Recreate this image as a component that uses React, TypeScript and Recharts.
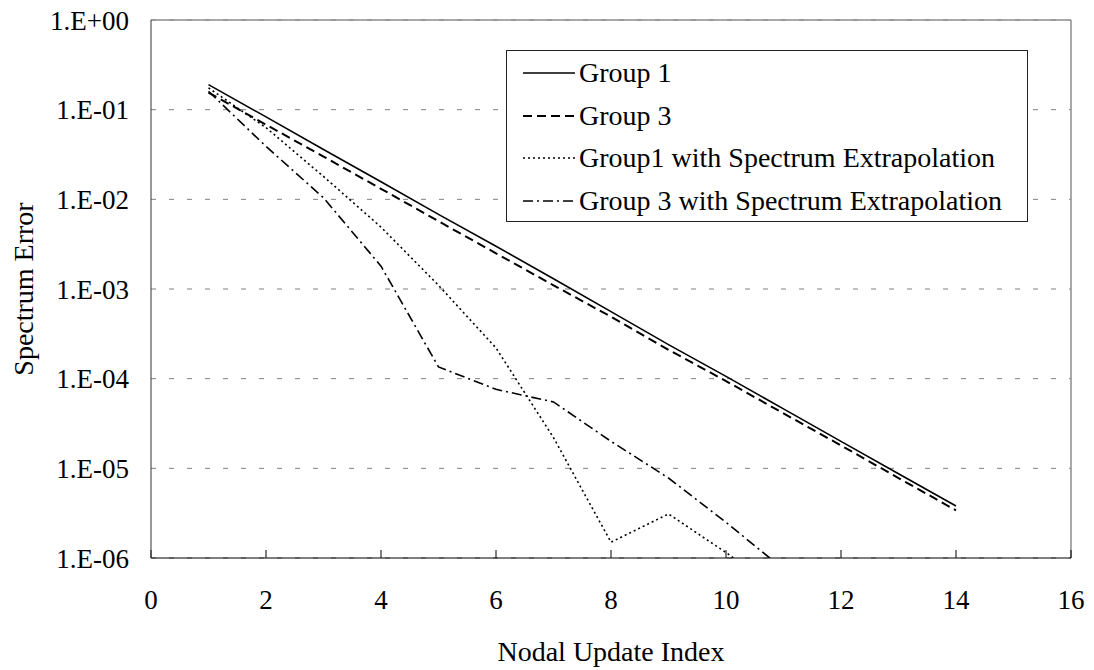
import React from "react";
import { CartesianGrid, Legend, Line, LineChart, ReferenceLine, XAxis, YAxis } from "recharts";

const xIndex = [1, 2, 3, 4, 5, 6, 7, 8, 9, 10, 11, 12, 13, 14];
const group1 = [0.19, 0.083, 0.036, 0.0157, 0.0068, 0.003, 0.0013, 5.6e-4, 2.4e-4, 1.06e-4, 4.6e-5, 2.0e-5, 8.7e-6, 3.8e-6];
const group3 = [0.155, 0.068, 0.03, 0.0131, 0.0057, 0.0025, 0.0011, 4.9e-4, 2.1e-4, 9.4e-5, 4.1e-5, 1.8e-5, 7.8e-6, 3.4e-6];
const group1Ext = [0.175, 0.063, 0.018, 0.0049, 0.0011, 2.2e-4, 2.2e-5, 1.5e-6, 3.1e-6, 1.15e-6, 4e-7];
const group3Ext = [0.16, 0.039, 0.0104, 0.0018, 1.35e-4, 7.6e-5, 5.5e-5, 2.0e-5, 7.8e-6, 2.5e-6, 7.5e-7];

const xTicks = [0, 2, 4, 6, 8, 10, 12, 14, 16];
const yTicks = [1e-6, 1e-5, 1e-4, 1e-3, 1e-2, 1e-1, 1];

const FONT = "'Liberation Serif', 'Times New Roman', serif";
const FS = 28;
const TICK_FS = 27;

const toRows = (vals: number[]) => vals.map((v, i) => ({ x: xIndex[i], y: v }));

const series = [
  { name: "Group 1", data: toRows(group1), dash: undefined as string | undefined, width: 1.6 },
  { name: "Group 3", data: toRows(group3), dash: "9 5", width: 2 },
  { name: "Group1 with Spectrum Extrapolation", data: toRows(group1Ext), dash: "2 3", width: 1.6 },
  { name: "Group 3 with Spectrum Extrapolation", data: toRows(group3Ext), dash: "10 4 2 4", width: 1.6 },
];

function fmtExp(v: number) {
  const e = Math.round(Math.log10(v));
  const sign = e < 0 ? "-" : "+";
  return `1.E${sign}${String(Math.abs(e)).padStart(2, "0")}`;
}

function LegendBox() {
  return (
    <div
      style={{
        width: 522,
        height: 172,
        border: "1.5px solid #222",
        background: "#fff",
        fontFamily: FONT,
        fontSize: FS,
        color: "#000",
        boxSizing: "border-box",
        paddingTop: 1,
      }}
    >
      {series.map((s) => (
        <div key={s.name} style={{ display: "flex", alignItems: "center", height: 42.5, paddingLeft: 16 }}>
          <svg width={52} height={10} style={{ marginRight: 4 }}>
            <line x1={0} y1={5} x2={52} y2={5} stroke="#000" strokeWidth={s.width} strokeDasharray={s.dash} />
          </svg>
          <span style={{ lineHeight: "42px", whiteSpace: "nowrap" }}>{s.name}</span>
        </div>
      ))}
    </div>
  );
}

export default function App() {
  return (
    <div style={{ position: "absolute", left: 0, top: 0, background: "#fff" }}>
      <LineChart width={1094} height={670} margin={{ top: 20, right: 23, bottom: 0, left: 0 }}>
        <CartesianGrid vertical={false} stroke="#808080" strokeDasharray="5 13" />
        <XAxis
          type="number"
          dataKey="x"
          domain={[0, 16]}
          ticks={xTicks}
          allowDataOverflow
          height={112}
          tickSize={-8}
          tickMargin={40}
          stroke="#000"
          tick={{ fill: "#000", fontFamily: FONT, fontSize: TICK_FS }}
          label={{ value: "Nodal Update Index", position: "insideBottom", offset: 9, fill: "#000", fontFamily: FONT, fontSize: FS }}
        />
        <YAxis
          type="number"
          scale="log"
          domain={[1e-6, 1]}
          ticks={yTicks}
          allowDataOverflow
          width={151}
          tickSize={0}
          tickMargin={22}
          stroke="#333"
          tickFormatter={fmtExp}
          tick={{ fill: "#000", fontFamily: FONT, fontSize: TICK_FS }}
          label={{
            content: () => (
              <text
                x={23}
                y={289}
                transform="rotate(-90, 23, 289)"
                textAnchor="middle"
                dominantBaseline="central"
                fontFamily={FONT}
                fontSize={FS}
                fill="#000"
              >
                Spectrum Error
              </text>
            ),
          }}
        />
        <ReferenceLine y={1} stroke="#8c8c8c" strokeWidth={1.5} />
        <ReferenceLine x={16} stroke="#8c8c8c" strokeWidth={1.5} />
        {series.map((s) => (
          <Line
            key={s.name}
            data={s.data}
            dataKey="y"
            name={s.name}
            type="linear"
            stroke="#000"
            strokeWidth={s.width}
            strokeDasharray={s.dash}
            dot={false}
            activeDot={false}
            isAnimationActive={false}
          />
        ))}
        <Legend
          layout="vertical"
          align="center"
          verticalAlign="middle"
          content={() => <LegendBox />}
          wrapperStyle={{ position: "absolute", left: 506, top: 50, width: 522, height: 172 }}
        />
      </LineChart>
    </div>
  );
}
